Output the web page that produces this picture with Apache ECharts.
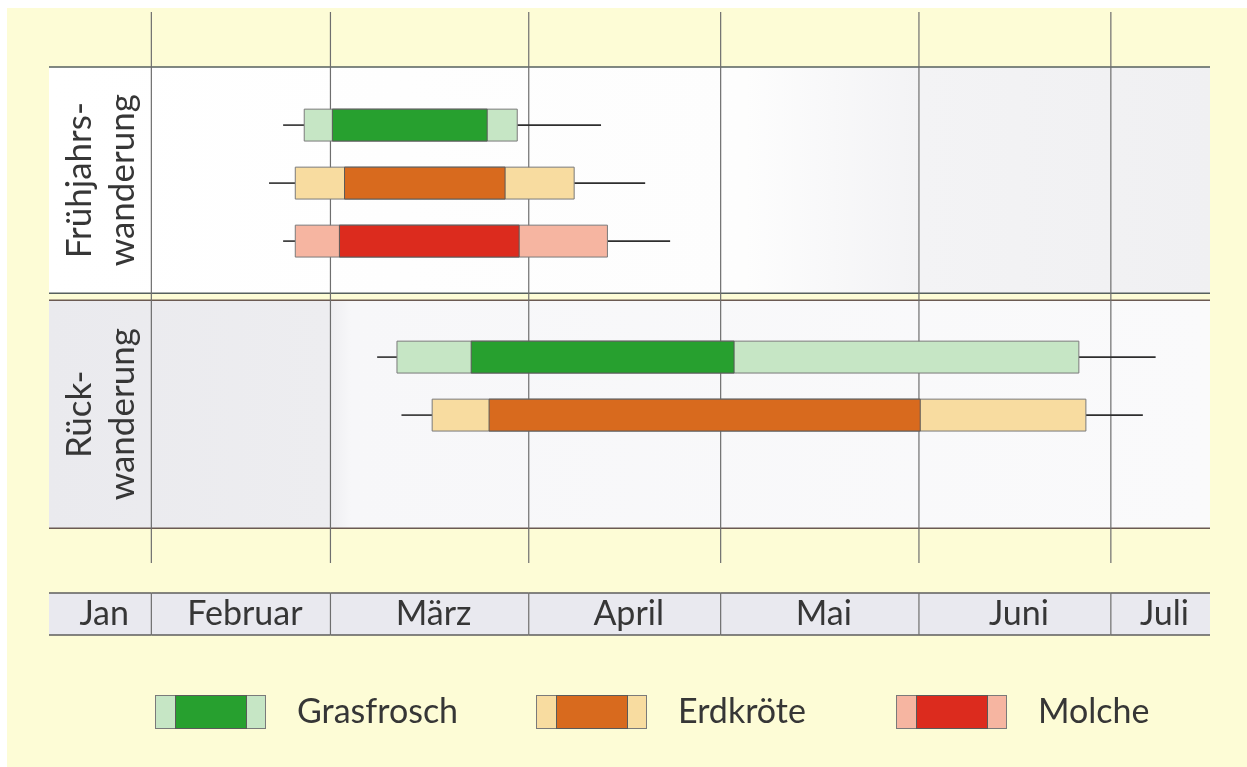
<!DOCTYPE html>
<html>
<head>
<meta charset="utf-8">
<title>Amphibienwanderung</title>
<script src="https://cdn.jsdelivr.net/npm/echarts@6/dist/echarts.min.js"></script>
<style>
  html, body { margin: 0; padding: 0; background: #fff; }
  #chart { width: 1247px; height: 767px; }
</style>
</head>
<body>
<div id="chart"></div>
<script>
  // alle Zeitangaben als Tag im Jahr (0 = 1. Januar)
  var monthNames = ['Jan', 'Februar', 'März', 'April', 'Mai', 'Juni', 'Juli']
  var monthStart = [0, 31, 59, 90, 120, 151, 181]
  var monthEnd = [31, 59, 90, 120, 151, 181, 212]
  var dayMin = 15
  var dayMax = 196.5

  var phases = ['Frühjahrs-\nwanderung', 'Rück-\nwanderung']
  var species = ['Grasfrosch', 'Erdkröte', 'Molche']

  // [erste Tiere, Beginn, Hauptzeit von, Hauptzeit bis, Ende, letzte Tiere]
  var grasfroschSpring = [51.6, 54.9, 59.3, 83.5, 88.2, 101.3]
  var erdkroeteSpring = [49.4, 53.5, 61.2, 86.3, 97.1, 108.2]
  var molcheSpring = [51.6, 53.5, 60.4, 88.5, 102.3, 112.1]
  var grasfroschReturn = [66.3, 69.4, 81.0, 122.1, 176.0, 188.0]
  var erdkroeteReturn = [70.1, 74.9, 83.8, 151.2, 177.1, 186.0]

  var speciesData = [
    [grasfroschSpring, grasfroschReturn],
    [erdkroeteSpring, erdkroeteReturn],
    [molcheSpring, null]
  ]

  var darkColors = ['#27a02f', '#d86a1e', '#dc2b1e']
  var lightColors = ['#c6e6c5', '#f8dca0', '#f6b5a1']
  var legendLeft = [155, 536, 896]
  var textColor = '#363636'
  var fontFamily = 'Lato, "Open Sans", sans-serif'

  // y-Achse in Zeilen: Frühjahr 0..2, Rückwanderung 4..5
  var rowMin = -1.95
  var rowMax = 7.55
  var panelBands = [[-1, 2.9], [3.02, 6.95]]
  var panelFills = [
    { type: 'linear', x: 0, y: 0, x2: 1, y2: 0, colorStops: [
      { offset: 0, color: '#ffffff' }, { offset: 0.6, color: '#fdfdfd' }, { offset: 0.75, color: '#f3f3f5' }, { offset: 1, color: '#f0f0f2' }] },
    { type: 'linear', x: 0, y: 0, x2: 1, y2: 0, colorStops: [
      { offset: 0, color: '#eaeaee' }, { offset: 0.24, color: '#ededf0' }, { offset: 0.26, color: '#f7f7f9' }, { offset: 1, color: '#fafafb' }] }
  ]

  function legendIcon(i) {
    var svg = '<svg xmlns="http://www.w3.org/2000/svg" width="111" height="34">' +
      '<rect x="0.5" y="0.5" width="110" height="33" fill="' + lightColors[i] + '" stroke="#7a7a7a"/>' +
      '<rect x="20.5" y="0.5" width="71" height="33" fill="' + darkColors[i] + '" stroke="#5a5a5a"/>' +
      '</svg>'
    return 'image://data:image/svg+xml;charset=utf-8,' + encodeURIComponent(svg)
  }

  function renderPanel(params, api) {
    var i = api.value(0)
    var band = panelBands[i]
    var p0 = api.coord([dayMin, band[0]])
    var p1 = api.coord([dayMax, band[1]])
    var colEnd = api.coord([monthStart[1], 0])[0]
    return {
      type: 'group',
      children: [
        { type: 'rect', shape: { x: p0[0], y: p0[1], width: p1[0] - p0[0], height: p1[1] - p0[1] },
          style: { fill: panelFills[i] } },
        { type: 'line', shape: { x1: p0[0], y1: p0[1], x2: p1[0], y2: p0[1] },
          style: { stroke: i === 0 ? '#56605e' : '#6b5a52', lineWidth: 1.5 } },
        { type: 'line', shape: { x1: p0[0], y1: p1[1], x2: p1[0], y2: p1[1] },
          style: { stroke: i === 0 ? '#56605e' : '#6b5a52', lineWidth: 1.5 } },
        { type: 'text', x: (p0[0] + colEnd) / 2 + 1, y: (p0[1] + p1[1]) / 2, rotation: Math.PI / 2,
          style: { text: phases[i], align: 'center', verticalAlign: 'middle', fontSize: 35,
            fontFamily: fontFamily, lineHeight: 43, fill: textColor } }
      ]
    }
  }

  function renderMonthLine(params, api) {
    var top = api.coord([api.value(0), rowMin])
    var bottom = api.coord([api.value(0), rowMax])
    return { type: 'line', shape: { x1: top[0], y1: top[1], x2: bottom[0], y2: bottom[1] },
      style: { stroke: '#6e6e6e', lineWidth: 1.2 } }
  }

  function renderBar(params, api) {
    var row = api.value(0)
    var pts = []
    for (var k = 1; k <= 6; k++) pts.push(api.coord([api.value(k), row]))
    var h = api.size([0, 0.55])[1]
    var y = pts[0][1]
    var s = params.seriesIndex - 2
    return {
      type: 'group',
      children: [
        { type: 'line', shape: { x1: pts[0][0], y1: y, x2: pts[1][0], y2: y }, style: { stroke: '#2e2e2e', lineWidth: 1.6 } },
        { type: 'line', shape: { x1: pts[4][0], y1: y, x2: pts[5][0], y2: y }, style: { stroke: '#2e2e2e', lineWidth: 1.6 } },
        { type: 'rect', shape: { x: pts[1][0], y: y - h / 2, width: pts[4][0] - pts[1][0], height: h },
          style: { fill: lightColors[s], stroke: '#7a7a7a', lineWidth: 1 } },
        { type: 'rect', shape: { x: pts[2][0], y: y - h / 2, width: pts[3][0] - pts[2][0], height: h },
          style: { fill: darkColors[s], stroke: '#5a5a5a', lineWidth: 1 } }
      ]
    }
  }

  function renderMonthCell(params, api) {
    var i = api.value(0)
    var x0 = api.coord([Math.max(monthStart[i], dayMin), 1])
    var x1 = api.coord([Math.min(monthEnd[i], dayMax), 0])
    var children = [
      { type: 'rect', shape: { x: x0[0], y: x0[1], width: x1[0] - x0[0], height: x1[1] - x0[1] },
        style: { fill: '#e9e9ef' } },
      { type: 'line', shape: { x1: x0[0], y1: x0[1], x2: x1[0], y2: x0[1] }, style: { stroke: '#5c5c5c', lineWidth: 1.5 } },
      { type: 'line', shape: { x1: x0[0], y1: x1[1], x2: x1[0], y2: x1[1] }, style: { stroke: '#5c5c5c', lineWidth: 1.5 } },
      { type: 'text', x: (x0[0] + x1[0]) / 2 + 4, y: (x0[1] + x1[1]) / 2,
        style: { text: monthNames[i], align: 'center', verticalAlign: 'middle', fontSize: 34,
          fontFamily: fontFamily, fill: textColor } }
    ]
    if (monthStart[i] > dayMin) {
      children.push({ type: 'line', shape: { x1: x0[0], y1: x0[1], x2: x0[0], y2: x1[1] },
        style: { stroke: '#6e6e6e', lineWidth: 1.2 } })
    }
    return { type: 'group', children: children }
  }

  var barSeries = species.map(function (name, s) {
    var data = []
    speciesData[s].forEach(function (vals, phase) {
      if (vals) data.push([phase * 4 + s].concat(vals))
    })
    return {
      name: name,
      type: 'custom',
      xAxisIndex: 0,
      yAxisIndex: 0,
      z: 5,
      renderItem: renderBar,
      encode: { x: [1, 2, 3, 4, 5, 6], y: 0 },
      data: data
    }
  })

  var chart = echarts.init(document.getElementById('chart'))
  chart.setOption({
    backgroundColor: '#ffffff',
    animation: false,
    graphic: [{
      type: 'rect', left: 7, top: 8, z: -100,
      shape: { width: 1240, height: 759 },
      style: { fill: '#fdfcd6' }
    }],
    grid: [
      { left: 49, right: 37, top: 12, bottom: 204 },
      { left: 49, right: 37, top: 593, height: 42 }
    ],
    xAxis: [
      { gridIndex: 0, type: 'value', min: dayMin, max: dayMax, show: false },
      { gridIndex: 1, type: 'value', min: dayMin, max: dayMax, show: false }
    ],
    yAxis: [
      { gridIndex: 0, type: 'value', inverse: true, min: rowMin, max: rowMax, show: false },
      { gridIndex: 1, type: 'value', min: 0, max: 1, show: false }
    ],
    legend: species.map(function (name, i) {
      return {
        data: [{ name: name, icon: legendIcon(i) }],
        left: legendLeft[i],
        top: 695,
        padding: 0,
        itemWidth: 111,
        itemHeight: 34,
        selectedMode: false,
        textStyle: { fontSize: 34, fontFamily: fontFamily, color: textColor, lineHeight: 34, padding: [0, 0, 0, 26] }
      }
    }),
    series: [
      {
        type: 'custom', xAxisIndex: 0, yAxisIndex: 0, z: 1,
        renderItem: renderPanel,
        data: phases.map(function (p, i) { return [i] })
      },
      {
        type: 'custom', xAxisIndex: 0, yAxisIndex: 0, z: 3,
        renderItem: renderMonthLine,
        data: monthStart.filter(function (d) { return d > dayMin && d < dayMax }).map(function (d) { return [d] })
      }
    ].concat(barSeries).concat([
      {
        type: 'custom', xAxisIndex: 1, yAxisIndex: 1, z: 3,
        renderItem: renderMonthCell,
        data: monthNames.map(function (m, i) { return [i] })
      }
    ])
  })
</script>
</body>
</html>
